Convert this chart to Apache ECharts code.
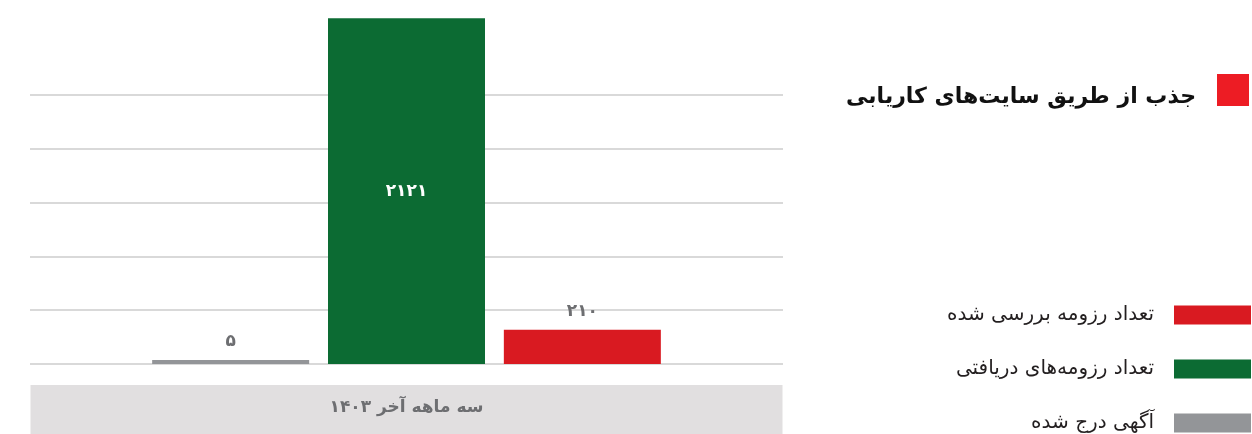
<!DOCTYPE html>
<html lang="fa">
<head>
<meta charset="utf-8">
<title>جذب از طریق سایت‌های کاریابی</title>
<script src="https://cdn.jsdelivr.net/npm/echarts@6/dist/echarts.min.js"></script>
<style>
  html, body { margin: 0; padding: 0; background: #ffffff; }
  #chart { width: 1252px; height: 434px; }
</style>
</head>
<body>
<div id="chart"></div>
<script>
// Chart data
const categories = ['سه ماهه آخر ۱۴۰۳'];
const seriesNames = ['آگهی درج شده', 'تعداد رزومه‌های دریافتی', 'تعداد رزومه بررسی شده'];
const adsPosted = [5];
const resumesReceived = [2121];
const resumesReviewed = [210];
const legendOrder = ['تعداد رزومه بررسی شده', 'تعداد رزومه‌های دریافتی', 'آگهی درج شده'];
const titleText = 'جذب از طریق سایت‌های کاریابی';

const FONT = "'DejaVu Sans', 'Noto Sans', sans-serif";
const GRAY_TEXT = '#6d6e71';

// Western digits to Persian digits
function toPersian(n) {
  return String(n).replace(/[0-9]/g, d => '۰۱۲۳۴۵۶۷۸۹'[+d]);
}

const chart = echarts.init(document.getElementById('chart'), null, { renderer: 'canvas' });

const topLabel = {
  show: true,
  position: 'top',
  distance: 10,
  color: GRAY_TEXT,
  fontFamily: FONT,
  fontSize: 17,
  fontWeight: 'bold',
  formatter: p => toPersian(p.value)
};

chart.setOption({
  animation: false,
  backgroundColor: '#ffffff',
  title: [
    {
      // heading text
      right: 56,
      top: 80,
      padding: 0,
      text: titleText,
      textStyle: { fontFamily: FONT, fontSize: 22, fontWeight: 'bold', color: '#111111', lineHeight: 34 }
    },
    {
      // red marker square beside the heading
      right: 3,
      top: 74,
      padding: 0,
      text: '{sq|}',
      textStyle: { rich: { sq: { backgroundColor: '#ed1c24', width: 32, height: 32 } } }
    }
  ],
  legend: {
    data: legendOrder,
    orient: 'vertical',
    align: 'right',
    right: 1,
    top: 305,
    padding: 0,
    height: 140,
    itemWidth: 77,
    itemHeight: 19,
    itemGap: 34,
    icon: 'rect',
    textStyle: { fontFamily: FONT, fontSize: 20, color: '#231f20', padding: [0, 15, 0, 0] }
  },
  grid: { left: 30, right: 469, top: 95, bottom: 70, containLabel: false, outerBoundsMode: 'none' },
  xAxis: {
    type: 'category',
    data: categories,
    axisLine: { show: false },
    axisTick: { show: false },
    axisLabel: {
      margin: 21,
      width: 752,
      height: 52,
      lineHeight: 46,
      align: 'center',
      backgroundColor: '#e1dfe0',
      color: GRAY_TEXT,
      fontFamily: FONT,
      fontSize: 17,
      fontWeight: 'bold'
    }
  },
  yAxis: {
    type: 'value',
    min: 0,
    max: 1650,
    interval: 330,
    axisLabel: { show: false },
    axisLine: { show: false },
    axisTick: { show: false },
    splitLine: { lineStyle: { color: '#d9d9d9', width: 2 } }
  },
  series: [
    {
      name: seriesNames[0], type: 'bar', data: adsPosted,
      barWidth: 157, barGap: '12%', barMinHeight: 4, clip: false,
      itemStyle: { color: '#939598' },
      label: topLabel
    },
    {
      name: seriesNames[1], type: 'bar', data: resumesReceived,
      barWidth: 157, barGap: '12%', clip: false,
      itemStyle: { color: '#0c6b33' },
      label: {
        show: true, position: 'inside', color: '#ffffff',
        fontFamily: FONT, fontSize: 17, fontWeight: 'bold',
        formatter: p => toPersian(p.value)
      }
    },
    {
      name: seriesNames[2], type: 'bar', data: resumesReviewed,
      barWidth: 157, barGap: '12%', clip: false,
      itemStyle: { color: '#d91a21' },
      label: topLabel
    }
  ]
});
</script>
</body>
</html>
